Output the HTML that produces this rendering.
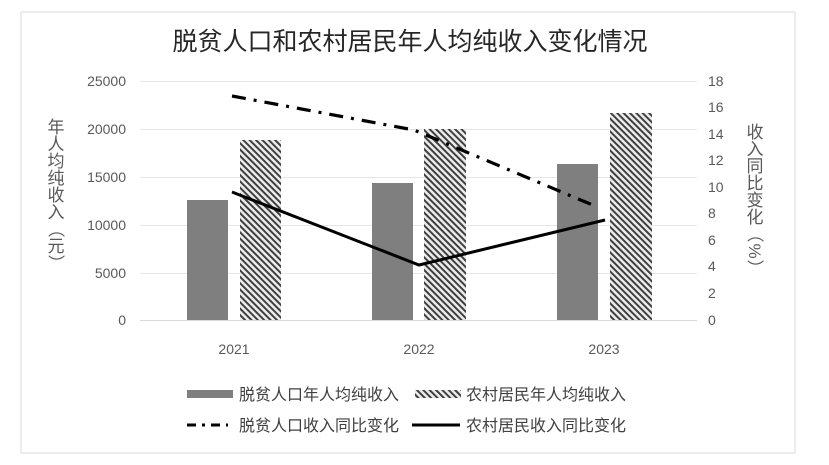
<!DOCTYPE html>
<html><head><meta charset="utf-8"><style>
html,body{margin:0;padding:0;background:#fff;}
svg text{font-family:"Liberation Sans","Noto Sans CJK SC",sans-serif;}
</style></head><body>
<svg width="829" height="460" xmlns="http://www.w3.org/2000/svg">
<defs>
<pattern id="h" patternUnits="userSpaceOnUse" width="4.5" height="4.5" patternTransform="rotate(-45)">
<rect width="4.5" height="4.5" fill="#ececec"/><rect width="2" height="4.5" fill="#404040"/>
</pattern>
</defs>
<rect x="21" y="12" width="774" height="441" fill="#fff" stroke="#d9d9d9"/>
<text x="410" y="50" font-size="25" text-anchor="middle" fill="#262626">脱贫人口和农村居民年人均纯收入变化情况</text>
<g stroke="#e6e6e6" stroke-width="1">
<line x1="140" x2="697" y1="81.5" y2="81.5"/><line x1="140" x2="697" y1="129.5" y2="129.5"/>
<line x1="140" x2="697" y1="177.5" y2="177.5"/><line x1="140" x2="697" y1="225.5" y2="225.5"/>
<line x1="140" x2="697" y1="273.5" y2="273.5"/>
</g>
<line x1="140" x2="697" y1="320.5" y2="320.5" stroke="#d9d9d9"/>
<g font-size="14" fill="#595959" text-anchor="end">
<text x="126" y="86">25000</text><text x="126" y="134">20000</text><text x="126" y="182">15000</text>
<text x="126" y="230">10000</text><text x="126" y="278">5000</text><text x="126" y="325">0</text>
</g>
<g font-size="14" fill="#595959">
<text x="708" y="86">18</text><text x="708" y="112">16</text><text x="708" y="139">14</text>
<text x="708" y="165">12</text><text x="708" y="192">10</text><text x="708" y="218">8</text>
<text x="708" y="245">6</text><text x="708" y="271">4</text><text x="708" y="298">2</text><text x="708" y="325">0</text>
</g>
<g font-size="14" fill="#595959" text-anchor="middle">
<text x="234" y="354">2021</text><text x="419" y="354">2022</text><text x="604" y="354">2023</text>
</g>
<g font-size="17" fill="#595959" text-anchor="middle">
<text x="56" y="133">年</text><text x="56" y="150">人</text><text x="56" y="167">均</text><text x="56" y="184">纯</text><text x="56" y="201">收</text><text x="56" y="218">入</text>
<text x="56" y="235" transform="rotate(90 56 229)">（</text><text x="56" y="252">元</text><text x="56" y="269" transform="rotate(90 56 263)">）</text>
<text x="755" y="138">收</text><text x="755" y="155">入</text><text x="755" y="172">同</text><text x="755" y="189">比</text><text x="755" y="206">变</text><text x="755" y="223">化</text>
<text x="755" y="240" transform="rotate(90 755 234)">（</text><text x="755" y="257" transform="rotate(90 755 251)">%</text><text x="755" y="274" transform="rotate(90 755 268)">）</text>
</g>
<g fill="#7f7f7f">
<rect x="187" y="200" width="41" height="120"/>
<rect x="372" y="183" width="41" height="137"/>
<rect x="557" y="164" width="41" height="156"/>
</g>
<g fill="url(#h)">
<rect x="240" y="140" width="41" height="180"/>
<rect x="424" y="129" width="42" height="191"/>
<rect x="610" y="113" width="42" height="207"/>
</g>
<polyline points="232,96 414,130 595,206" fill="none" stroke="#000" stroke-width="3.2" stroke-dasharray="14,8,3,8"/>
<polyline points="232,192 419,265 605,220" fill="none" stroke="#000" stroke-width="3"/>
<rect x="187" y="390" width="46" height="8" fill="#7f7f7f"/>
<rect x="415" y="390" width="46" height="8" fill="url(#h)"/>
<line x1="187" x2="228" y1="425" y2="425" stroke="#000" stroke-width="3" stroke-dasharray="9,6,3,6"/>
<line x1="412" x2="460" y1="425" y2="425" stroke="#000" stroke-width="3"/>
<g font-size="16" fill="#404040">
<text x="239" y="400">脱贫人口年人均纯收入</text><text x="466" y="400">农村居民年人均纯收入</text>
<text x="239" y="431">脱贫人口收入同比变化</text><text x="466" y="431">农村居民收入同比变化</text>
</g>
</svg>
</body></html>
